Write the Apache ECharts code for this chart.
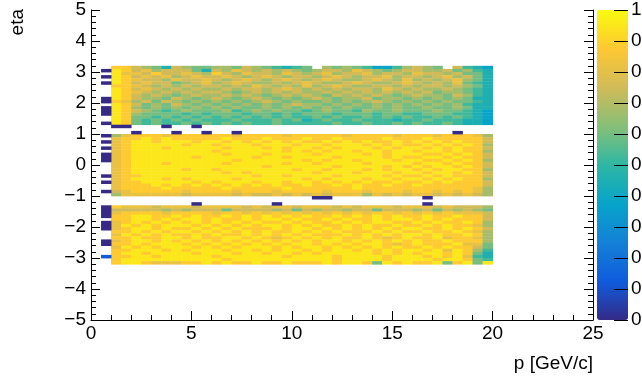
<!DOCTYPE html>
<html>
<head>
<meta charset="utf-8">
<script src="https://cdn.jsdelivr.net/npm/echarts@6/dist/echarts.min.js"></script>
<style>
html,body{margin:0;padding:0;background:#fff;}
#main{width:642px;height:377px;}
</style>
</head>
<body>
<div id="main"></div>
<script>
// efficiency vs p and eta.
// every band row goes from high eta down, one char per p bin (0.5 GeV/c from p=1)
var pStart = 1.0;
var pBinWidth = 0.5;
var etaBinWidth = 0.1;
// char '0'..'9' -> efficiency level, '-' = empty bin
var levels = [0.30, 0.375, 0.45, 0.525, 0.60, 0.675, 0.75, 0.82, 0.88, 0.95];

var topBandEta = 3.2;
var topBand = [
    "8865426544" + "5546543234" + "-545431135" + "654-6321",
    "9867566642" + "6576565654" + "5665765456" + "65564532",
    "9776866765" + "8657665765" + "6756675665" + "76656442",
    "9867675676" + "6765676566" + "5676566756" + "65675642",
    "9876657667" + "6567656765" + "6765567657" + "56567542",
    "9867664567" + "5676556567" + "6556765567" + "65657432",
    "8876565656" + "6565765657" + "5676556656" + "56656542",
    "9867656565" + "5656656765" + "6565665765" + "65565432",
    "9876565656" + "6545656565" + "5656565656" + "56455432",
    "9865654565" + "5656545656" + "5465656545" + "65546532",
    "9865546545" + "6545654545" + "6545564554" + "54545422",
    "8756465454" + "5454565454" + "4545456545" + "45454432",
    "9864546545" + "4545454565" + "5454545454" + "54545322",
    "9854545454" + "5454454545" + "4545445454" + "45445422",
    "9865434544" + "4534545443" + "4544354454" + "44544321",
    "9854444343" + "4443443434" + "4434443443" + "34443321",
    "9844343434" + "3434343433" + "4343343434" + "33434321",
    "9843434343" + "3343334342" + "3433433323" + "34333221",
    "9843433434" + "3434334333" + "3343343343" + "43343221"
];

var midBandEta = 1.0;
var midBand = [
    "5788878888" + "8878888788" + "8887888878" + "88788875",
    "7889898888" + "8988898889" + "8898888988" + "89888886",
    "7899899989" + "9898989898" + "8989898898" + "98989886",
    "7899999899" + "8999899989" + "9899989898" + "89898985",
    "7899989999" + "9899989899" + "8989998989" + "98989886",
    "7899999999" + "8999999898" + "9899899899" + "89989885",
    "7899999999" + "9899989999" + "8999989899" + "98898986",
    "7899999989" + "9999899899" + "9989999898" + "89989886",
    "7899999999" + "9989999998" + "9899899989" + "98898985",
    "7899989999" + "9899999899" + "8999989999" + "89989886",
    "7899999999" + "9999989999" + "9989999898" + "98998986",
    "7899999899" + "8999999989" + "9899989899" + "89899885",
    "7899999999" + "9898999999" + "8999899989" + "98998986",
    "7889999999" + "9999899899" + "9989999898" + "89898886",
    "7899989899" + "9989999998" + "9899989989" + "98989885",
    "7889999989" + "8999899899" + "8989898898" + "89898886",
    "7888989898" + "9898989889" + "8898988988" + "98888886",
    "7888898888" + "8988888988" + "8888988888" + "88888875",
    "6788888788" + "8878887888" + "8788878887" + "88787875",
    "5777777677" + "7767667676" + "7677757676" + "77676765"
];

var lowBandEta = -1.3;
var lowBand = [
    "8777677767" + "7776767767" + "7767677767" + "77676665",
    "6666656566" + "6466665646" + "5665664666" + "56465654",
    "7888878888" + "7887878787" + "8787878878" + "78787776",
    "8899889898" + "8989898989" + "8898989898" + "89889886",
    "8899898998" + "9889899898" + "8989889899" + "89898886",
    "7898989898" + "9898988989" + "8898989988" + "98988985",
    "7989899989" + "8989899898" + "9889898898" + "89898875",
    "7899898898" + "9898889899" + "8989898989" + "98898986",
    "8898989989" + "8989898898" + "9898889898" + "89889875",
    "7989898898" + "9889898989" + "8889898989" + "98988985",
    "8898899898" + "8998987898" + "9898898789" + "88978875",
    "7899898989" + "8989898989" + "8998989898" + "98898885",
    "8898999898" + "9898989899" + "8989899878" + "98889774",
    "7989899989" + "8989998989" + "9898989898" + "89898864",
    "8899989899" + "9899898998" + "9899898989" + "98979853",
    "8998999989" + "9989989989" + "8999998989" + "89989842",
    "8899899999" + "8999999899" + "9989999899" + "98989732",
    "8999999999" + "9899999999" + "9989999899" + "99899843",
    "8998777889" + "8988988988" + "8989984989" + "88948949"
];

// odd bins outside the bands: [pLow, pHigh, etaLow, etaHigh, eff]
var oddBins = [
    [0.5, 1.0, 3.0, 3.1, 0], [0.5, 1.0, 2.8, 2.9, 0], [0.5, 1.0, 2.6, 2.7, 0],
    [0.5, 1.0, 2.0, 2.2, 0], [0.5, 1.0, 1.6, 1.9, 0], [0.5, 1.0, 1.3, 1.4, 0],
    [0.5, 1.0, 0.9, 1.0, 0], [0.5, 1.0, 0.7, 0.8, 0], [0.5, 1.0, 0.5, 0.6, 0],
    [0.5, 1.0, 0.1, 0.4, 0], [0.5, 1.0, -0.4, -0.3, 0], [0.5, 1.0, -0.6, -0.5, 0],
    [0.5, 1.0, -0.9, -0.8, 0], [0.5, 1.0, -1.7, -1.3, 0], [0.5, 1.0, -2.1, -1.8, 0],
    [0.5, 1.0, -2.6, -2.4, 0], [0.5, 1.0, -3.0, -2.9, 0.12],
    [1.0, 2.0, 1.2, 1.3, 0], [3.5, 4.0, 1.2, 1.3, 0], [5.0, 5.5, 1.2, 1.3, 0],
    [2.0, 2.5, 1.0, 1.1, 0], [4.0, 4.5, 1.0, 1.1, 0], [5.5, 6.0, 1.0, 1.1, 0],
    [7.0, 7.5, 1.0, 1.1, 0], [18.0, 18.5, 1.0, 1.1, 0],
    [11.0, 12.0, -1.1, -1.0, 0], [16.5, 17.0, -1.1, -1.0, 0],
    [5.0, 5.5, -1.3, -1.2, 0], [9.0, 9.5, -1.3, -1.2, 0], [16.5, 17.0, -1.3, -1.2, 0]
];

// ROOT kBird palette
var birdColors = ['#352a87', '#0f5cdd', '#1481d6', '#06a4ca', '#2eb7a4',
    '#87bf77', '#d1bb59', '#fec832', '#f9fb0e'];

var fontName = 'Liberation Sans';

function addBand(out, rows, etaTop) {
    rows.forEach(function (row, i) {
        var e1 = etaTop - i * etaBinWidth;
        var e0 = e1 - etaBinWidth;
        for (var j = 0; j < row.length; j++) {
            var c = row.charAt(j);
            if (c === '-') continue;
            var p0 = pStart + j * pBinWidth;
            out.push([p0, p0 + pBinWidth, +e0.toFixed(2), +e1.toFixed(2), levels[+c]]);
        }
    });
}

var cells = [];
addBand(cells, topBand, topBandEta);
addBand(cells, midBand, midBandEta);
addBand(cells, lowBand, lowBandEta);
oddBins.forEach(function (b) { cells.push(b.slice()); });

function minusSign(v) {
    return String(v).replace('-', '\u2212');
}

function renderCell(params, api) {
    var a = api.coord([api.value(0), api.value(3)]);
    var b = api.coord([api.value(1), api.value(2)]);
    return {
        type: 'rect',
        shape: { x: a[0], y: a[1], width: b[0] - a[0] + 0.4, height: b[1] - a[1] + 0.4 },
        style: { fill: api.visual('color') }
    };
}

var labelStyle = { color: '#000', fontFamily: fontName, fontSize: 19 };
var blackLine = { lineStyle: { color: '#000', width: 1 } };

var option = {
    backgroundColor: '#fff',
    animation: false,
    textStyle: { fontFamily: fontName },
    grid: [
        { left: 91, top: 10, width: 502, height: 310, outerBoundsMode: 'none' },
        { left: 597, top: 10, width: 31, height: 310, outerBoundsMode: 'none', zlevel: 1 }
    ],
    xAxis: [{
        type: 'value', gridIndex: 0, min: 0, max: 25, interval: 5,
        axisLine: { onZero: false, lineStyle: { color: '#000', width: 1 } },
        axisTick: Object.assign({ inside: true, length: 9 }, blackLine),
        minorTick: Object.assign({ show: true, splitNumber: 5, length: 5 }, blackLine),
        splitLine: { show: false },
        axisLabel: Object.assign({ margin: 4 }, labelStyle),
        name: 'p [GeV/c]', nameLocation: 'end', nameGap: 0,
        nameTextStyle: { color: '#000', fontFamily: fontName, fontSize: 19,
            align: 'right', verticalAlign: 'top', padding: [34, 0, 0, 0] }
    }, {
        type: 'value', gridIndex: 1, min: 0, max: 1, show: false, zlevel: 1
    }],
    yAxis: [{
        type: 'value', gridIndex: 0, min: -5, max: 5, interval: 1,
        axisLine: { show: true, onZero: false, lineStyle: { color: '#000', width: 1 } },
        axisTick: Object.assign({ show: true, inside: true, length: 9 }, blackLine),
        minorTick: Object.assign({ show: true, splitNumber: 5, length: 5 }, blackLine),
        splitLine: { show: false },
        axisLabel: Object.assign({ margin: 5, formatter: minusSign }, labelStyle),
        name: 'eta', nameLocation: 'end', nameGap: 1, nameRotate: 90,
        nameTextStyle: { color: '#000', fontFamily: fontName, fontSize: 19,
            align: 'right', verticalAlign: 'bottom', padding: [0, 0, 64, 0] }
    }, {
        // right side of the frame: ticks only
        type: 'value', gridIndex: 0, min: -5, max: 5, interval: 1, position: 'right',
        axisLine: { show: true, onZero: false, lineStyle: { color: '#000', width: 1 } },
        axisTick: Object.assign({ show: true, inside: true, length: 9 }, blackLine),
        minorTick: Object.assign({ show: true, splitNumber: 5, length: 5 }, blackLine),
        splitLine: { show: false },
        axisLabel: { show: false }
    }, {
        // palette axis, on its own layer so the ticks sit over the colour bar
        type: 'value', gridIndex: 1, min: 0, max: 1, interval: 0.1, position: 'right',
        zlevel: 1, z: 20,
        axisLine: { show: true, onZero: false, lineStyle: { color: 'rgba(0,0,0,0)' } },
        axisTick: Object.assign({ show: true, inside: true, length: 14 }, blackLine),
        splitLine: { show: false },
        axisLabel: Object.assign({ margin: 3 }, labelStyle)
    }],
    visualMap: {
        type: 'continuous', min: 0, max: 1, dimension: 4, seriesIndex: 0,
        left: 597, top: 10, itemWidth: 31, itemHeight: 310, padding: 0, z: 1,
        calculable: false, hoverLink: false,
        inRange: { color: birdColors }
    },
    series: [{
        type: 'custom',
        xAxisIndex: 0, yAxisIndex: 0,
        renderItem: renderCell,
        encode: { x: [0, 1], y: [2, 3] },
        data: cells
    }]
};

var myChart = echarts.init(document.getElementById('main'));
myChart.setOption(option);
</script>
</body>
</html>
